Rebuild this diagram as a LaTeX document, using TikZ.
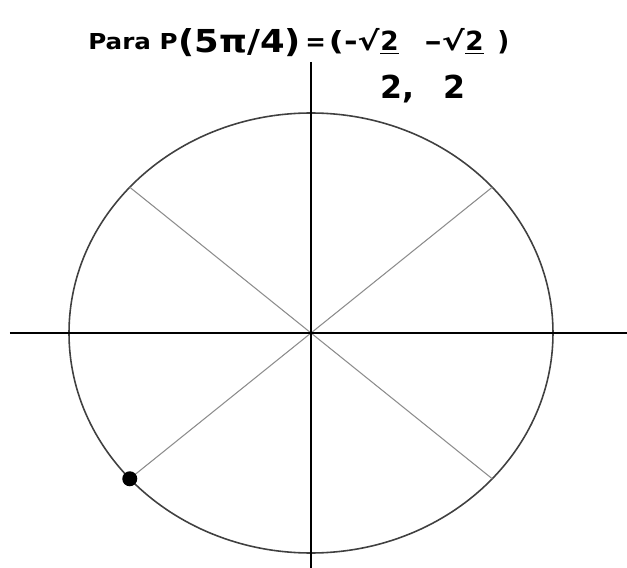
\documentclass[tikz,border=0pt]{standalone}
\usepackage{fontspec}
\setmainfont{DejaVu Sans}
\usepackage{graphicx}
\usetikzlibrary{calc}

\begin{document}
\begin{tikzpicture}[
      x=0.02cm, y=-0.02cm,
      axis/.style={draw=black, line width=1.1pt},
      curve/.style={draw=black!75, line width=0.9pt},
      diag/.style={draw=black!45, line width=0.6pt},
      lbl/.style={inner sep=0pt, anchor=base west, font=\bfseries},
      pt/.style={fill=black},
  ]
  \useasboundingbox (0,0) rectangle (627,568);

  %% Title
  \node[lbl, font=\bfseries\fontsize{12.5}{14}\selectfont] (para) at (88,50)
        {\scalebox{1.12}[1]{Para P}};
  \node[lbl, font=\bfseries\fontsize{18}{20}\selectfont] (ang) at (178,52)
        {\scalebox{1.12}[1]{(5π/4)}};
  \node[lbl, font=\bfseries\fontsize{14}{16}\selectfont] (eq) at (305,51) {=};
  \node[lbl, anchor=base east, font=\bfseries\fontsize{15}{17}\selectfont] (xs) at (380,51)
        {\scalebox{1.25}[1]{(-√}};
  \node[lbl, font=\bfseries\fontsize{15}{17}\selectfont] (xn) at (380,51) {\underline{2}};
  \node[lbl, anchor=base east, font=\bfseries\fontsize{15}{17}\selectfont] (ys) at (465,51)
        {\scalebox{1.3}[1]{–√}};
  \node[lbl, font=\bfseries\fontsize{15}{17}\selectfont] (yn) at (465,51) {\underline{2}};
  \node[lbl, font=\bfseries\fontsize{15}{17}\selectfont] (rp) at (497,51) {)};
  \node[lbl, font=\bfseries\fontsize{18}{20}\selectfont] (xd) at (380,98) {2,};
  \node[lbl, font=\bfseries\fontsize{18}{20}\selectfont] (yd) at (443,98) {2};

  %% Axes and circle
  \coordinate (O) at (311,333);
  \coordinate (xl) at (10,333);
  \coordinate (xr) at (627,333);
  \coordinate (yt) at (311,62);
  \coordinate (yb) at (311,568);
  \draw[curve] (O) ellipse [x radius=242, y radius=220];

  %% Diagonals
  \coordinate (q1) at ($(O)+(-41.5:242 and 220)$);
  \coordinate (q2) at ($(O)+(221.5:242 and 220)$);
  \coordinate (q3) at ($(O)+(138.5:242 and 220)$);
  \coordinate (q4) at ($(O)+(41.5:242 and 220)$);
  \draw[diag] (q1) -- (q3);
  \draw[diag] (q2) -- (q4);

  \draw[axis] (xl) -- (xr);
  \draw[axis] (yt) -- (yb);

  %% Point
  \fill[pt] (q3) circle [radius=7.5];
\end{tikzpicture}
\end{document}
